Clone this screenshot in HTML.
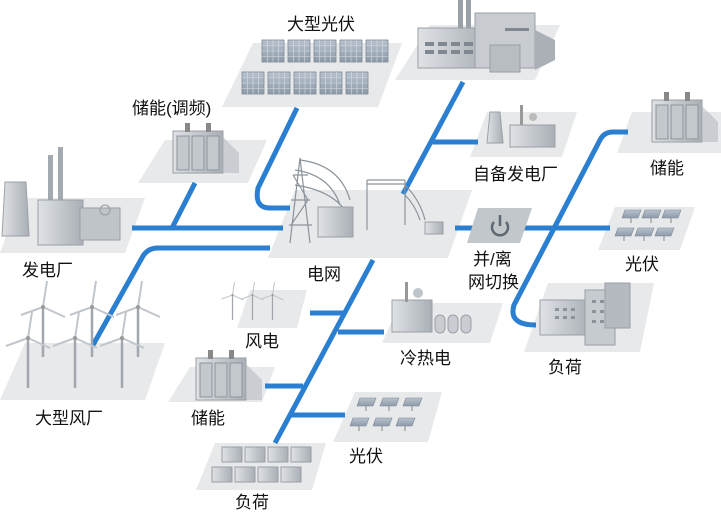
<!DOCTYPE html>
<html><head><meta charset="utf-8"><style>
html,body{margin:0;padding:0;background:#fff;}
svg{display:block}
text{font-family:"Liberation Sans","Noto Sans CJK SC",sans-serif;font-size:17px;fill:#111;}
</style></head><body>
<svg width="721" height="520" viewBox="0 0 721 520" xmlns="http://www.w3.org/2000/svg">
<defs>
<linearGradient id="bg" x1="0" x2="1"><stop offset="0" stop-color="#dfe2e5"/><stop offset="1" stop-color="#a9afb5"/></linearGradient>
<linearGradient id="pv" x1="0" x2="0" y1="0" y2="1"><stop offset="0" stop-color="#b9c3cf"/><stop offset="1" stop-color="#8e9aa8"/></linearGradient>
<g id="panel"><rect width="22" height="22" fill="url(#pv)" stroke="#7d8895" stroke-width="0.8"/><path d="M0 5.5H22M0 11H22M0 16.5H22M5.5 0V22M11 0V22M16.5 0V22" stroke="#d6dde5" stroke-width="0.6"/></g>
<g id="spanel"><path d="M0 0H16L13 8H-3Z" fill="url(#pv)" stroke="#7d8895" stroke-width="0.6"/><path d="M6 8V13" stroke="#888"/></g>
<g id="batt"><rect x="0" y="8" width="50" height="42" fill="url(#bg)" stroke="#9aa0a6"/><rect x="4" y="13" width="12" height="34" fill="#c3c8cd" stroke="#8d949b"/><rect x="19" y="13" width="12" height="34" fill="#c3c8cd" stroke="#8d949b"/><rect x="34" y="13" width="12" height="34" fill="#c3c8cd" stroke="#8d949b"/><rect x="12" y="0" width="5" height="9" fill="#888"/><rect x="33" y="0" width="5" height="9" fill="#888"/><path d="M50 14L66 30V50H50Z" fill="#b7bcc1" opacity=".6"/></g>
<g id="turb"><path d="M0 0V50" stroke="#a0a7ae" stroke-width="2.5"/><path d="M0 0L4 -26M0 0L-22 8M0 0L22 10" stroke="#c0c6cc" stroke-width="2"/><circle r="2" fill="#999"/></g>
</defs>

<g fill="#e7e9eb">
<polygon points="253,43 402,43 378,107 222,107"/>
<polygon points="430,25 560,25 535,80 395,80"/>
<polygon points="165,140 267,140 248,183 138,183"/>
<polygon points="20,198 145,198 125,253 0,253"/>
<polygon points="295,190 472,190 448,258 268,258"/>
<polygon points="487,112 577,112 562,157 470,157"/>
<polygon points="632,112 721,112 721,153 617,153"/>
<polygon points="615,207 695,207 680,250 598,250"/>
<polygon points="548,283 654,283 640,352 524,352"/>
<polygon points="25,343 165,343 145,400 0,400"/>
<polygon points="250,290 307,290 297,328 237,328"/>
<polygon points="400,303 503,303 490,343 382,343"/>
<polygon points="190,367 275,367 262,402 168,402"/>
<polygon points="355,392 442,392 428,442 333,442"/>
<polygon points="215,443 326,443 312,490 196,490"/>
</g>

<g fill="none" stroke="#2b7fd0" stroke-width="5" stroke-linecap="butt">
<path d="M297,108 L258,188 Q254,208 270,208 H290"/>
<path d="M132,228 H283"/>
<path d="M195,183 L172,228"/>
<path d="M270,248 H158 Q148,248 143,256 L93,345"/>
<path d="M463,82 L403,194"/>
<path d="M432,142 H478"/>
<path d="M455,228 H473 M523,228 H610"/>
<path d="M628,132 H613 Q604,132 600,140 L514,305 Q508,325 536,325"/>
<path d="M373,260 L275,443"/>
<path d="M310,313 H345 M338,332 H384 M265,386 H303 M289,415 H345"/>
</g>

<g>
<use href="#panel" x="262" y="40"/><use href="#panel" x="288" y="40"/><use href="#panel" x="314" y="40"/><use href="#panel" x="340" y="40"/><use href="#panel" x="366" y="40"/>
<use href="#panel" x="242" y="72"/><use href="#panel" x="268" y="72"/><use href="#panel" x="294" y="72"/><use href="#panel" x="320" y="72"/><use href="#panel" x="346" y="72"/>
</g>

<g>
<rect x="458" y="0" width="5" height="32" fill="#9aa1a8"/><rect x="466" y="0" width="5" height="32" fill="#9aa1a8"/>
<rect x="418" y="28" width="70" height="40" fill="url(#bg)" stroke="#9aa0a6"/>
<rect x="475" y="13" width="60" height="55" fill="#c8ccd1" stroke="#9aa0a6"/>
<rect x="490" y="45" width="30" height="27" fill="#b8bdc2" stroke="#9aa0a6"/>
<path d="M535,30 L555,40 V60 L535,70Z" fill="#aab0b6"/>
<g fill="#7f8890"><rect x="425" y="42" width="9" height="4"/><rect x="438" y="42" width="9" height="4"/><rect x="451" y="42" width="9" height="4"/><rect x="464" y="42" width="9" height="4"/><rect x="425" y="50" width="9" height="4"/><rect x="438" y="50" width="9" height="4"/><rect x="451" y="50" width="9" height="4"/><rect x="464" y="50" width="9" height="4"/><rect x="505" y="28" width="24" height="3"/></g>
</g>

<use href="#batt" x="173" y="123"/>
<use href="#batt" x="652" y="92"/>
<use href="#batt" x="196" y="350"/>

<g>
<path d="M5,182 H26 L29,236 H2Z" fill="url(#bg)" stroke="#9aa0a6"/>
<rect x="48" y="155" width="5" height="55" fill="#a3aab1"/><rect x="58" y="147" width="5" height="63" fill="#a3aab1"/>
<rect x="38" y="200" width="45" height="45" fill="url(#bg)" stroke="#9aa0a6"/>
<rect x="80" y="208" width="40" height="32" fill="#bfc4c9" stroke="#9aa0a6"/>
<circle cx="105" cy="210" r="5" fill="none" stroke="#999"/>
</g>

<g stroke="#8c949b" fill="none" stroke-width="1.2">
<path d="M300,158 L290,243 M300,158 L310,243 M293,175 H308 M291,200 H310 M289,225 H312 M293,175 L308,200 L291,225"/>
<path d="M295,170 Q330,175 340,205 M295,185 Q330,190 345,210 M300,160 Q340,165 350,200"/>
<path d="M367,180 V230 M405,180 V225 M367,180 H405 M367,184 H405"/>
<path d="M405,185 Q420,200 425,220 M405,195 Q415,205 420,220"/>
</g>
<rect x="318" y="207" width="35" height="30" fill="url(#bg)" stroke="#9aa0a6"/>
<rect x="425" y="222" width="18" height="12" fill="url(#bg)" stroke="#9aa0a6"/>

<path d="M490,112 H500 L503,143 H487Z" fill="url(#bg)" stroke="#9aa0a6"/>
<rect x="510" y="125" width="45" height="22" fill="url(#bg)" stroke="#9aa0a6"/>
<rect x="520" y="105" width="3" height="20" fill="#999"/><circle cx="533" cy="117" r="4" fill="#bbb"/>

<polygon points="478,208 532,208 520,243 467,243" fill="#c2c7cc"/>
<g fill="none" stroke="#5f6770" stroke-width="2.5"><path d="M494,222 A8,8 0 1 0 506,222"/><path d="M500,215 V226"/></g>

<use href="#spanel" x="625" y="210"/><use href="#spanel" x="645" y="210"/><use href="#spanel" x="665" y="210"/>
<use href="#spanel" x="618" y="228"/><use href="#spanel" x="638" y="228"/><use href="#spanel" x="658" y="228"/>

<rect x="540" y="300" width="50" height="35" fill="url(#bg)" stroke="#9aa0a6"/>
<rect x="585" y="290" width="30" height="55" fill="#c6cbd0" stroke="#9aa0a6"/>
<rect x="605" y="283" width="25" height="45" fill="#b4bac0" stroke="#9aa0a6"/>
<g fill="#8a939b"><rect x="555" y="308" width="4" height="3"/><rect x="563" y="308" width="4" height="3"/><rect x="571" y="308" width="4" height="3"/><rect x="555" y="316" width="4" height="3"/><rect x="563" y="316" width="4" height="3"/><rect x="571" y="316" width="4" height="3"/><rect x="592" y="300" width="4" height="3"/><rect x="600" y="300" width="4" height="3"/><rect x="592" y="310" width="4" height="3"/><rect x="600" y="310" width="4" height="3"/><rect x="592" y="320" width="4" height="3"/><rect x="600" y="320" width="4" height="3"/></g>

<use href="#turb" x="43" y="307"/><use href="#turb" x="92" y="307"/><use href="#turb" x="138" y="307"/>
<use href="#turb" x="28" y="338"/><use href="#turb" x="75" y="338"/><use href="#turb" x="122" y="338"/>
<g transform="translate(210,185) scale(0.5)"><use href="#turb" x="45" y="220"/><use href="#turb" x="85" y="220"/><use href="#turb" x="125" y="220"/></g>

<rect x="392" y="300" width="40" height="32" fill="url(#bg)" stroke="#9aa0a6"/>
<rect x="405" y="282" width="3" height="20" fill="#999"/><circle cx="418" cy="293" r="5" fill="#c0c5ca"/>
<g fill="#c9cdd2" stroke="#9aa0a6"><rect x="435" y="315" width="10" height="18" rx="5"/><rect x="448" y="315" width="10" height="18" rx="5"/><rect x="461" y="315" width="10" height="18" rx="5"/></g>

<use href="#spanel" x="360" y="398"/><use href="#spanel" x="383" y="398"/><use href="#spanel" x="406" y="398"/>
<use href="#spanel" x="353" y="418"/><use href="#spanel" x="376" y="418"/><use href="#spanel" x="399" y="418"/>

<g fill="url(#bg)" stroke="#9aa0a6">
<rect x="222" y="447" width="20" height="15"/><rect x="245" y="447" width="20" height="15"/><rect x="268" y="447" width="20" height="15"/><rect x="291" y="447" width="20" height="15"/>
<rect x="212" y="467" width="20" height="15"/><rect x="235" y="467" width="20" height="15"/><rect x="258" y="467" width="20" height="15"/><rect x="281" y="467" width="20" height="15"/>
</g>

<text x="287" y="30">大型光伏</text>
<text x="132" y="114">储能(调频)</text>
<text x="22" y="276">发电厂</text>
<text x="307" y="280">电网</text>
<text x="473" y="180">自备发电厂</text>
<text x="650" y="174">储能</text>
<text x="473" y="265">并/离</text>
<text x="468" y="288">网切换</text>
<text x="625" y="270">光伏</text>
<text x="548" y="373">负荷</text>
<text x="245" y="347">风电</text>
<text x="400" y="364">冷热电</text>
<text x="35" y="424">大型风厂</text>
<text x="191" y="424">储能</text>
<text x="349" y="462">光伏</text>
<text x="235" y="508">负荷</text>
</svg>
</body></html>
